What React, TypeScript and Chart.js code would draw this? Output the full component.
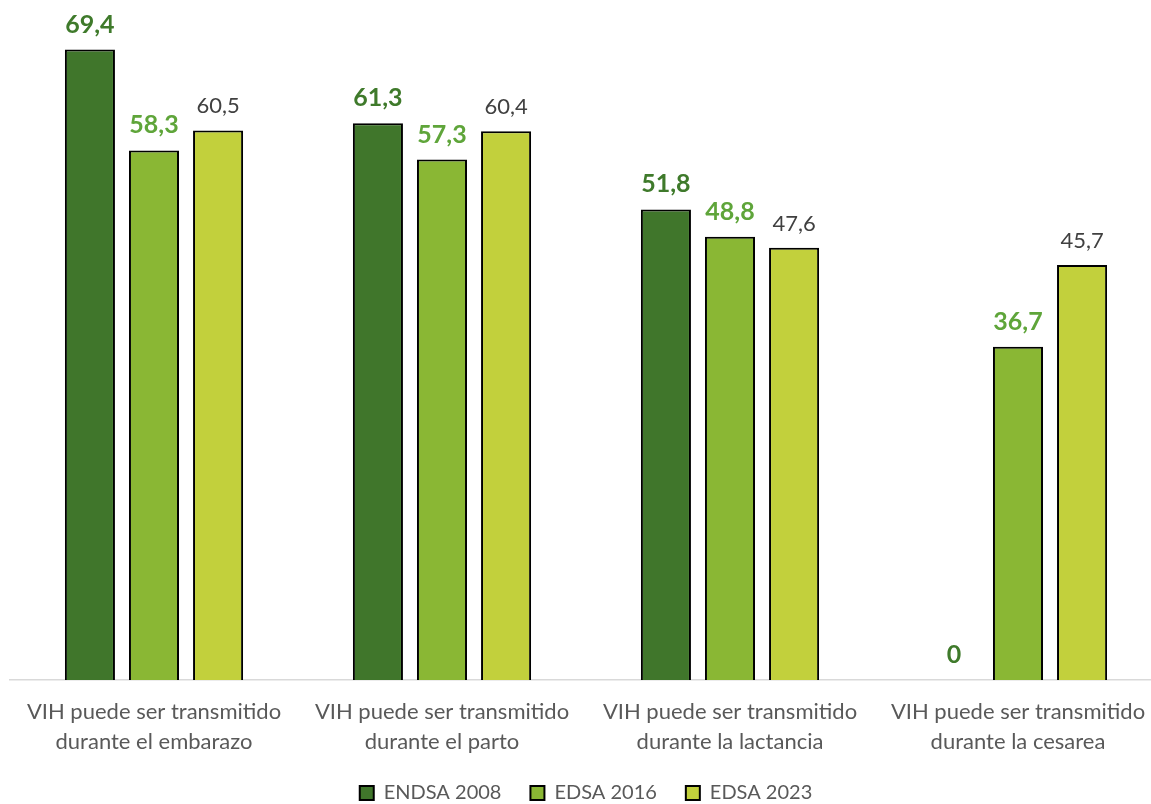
import React, { useEffect, useRef } from "react";
import { Chart, registerables } from "chart.js";

Chart.register(...registerables);

const categories: string[][] = [
  ["VIH puede ser transmitido", "durante el embarazo"],
  ["VIH puede ser transmitido", "durante el parto"],
  ["VIH puede ser transmitido", "durante la lactancia"],
  ["VIH puede ser transmitido", "durante la cesarea"],
];
const seriesNames = ["ENDSA 2008", "EDSA 2016", "EDSA 2023"];
const endsa2008 = [69.4, 61.3, 51.8, 0];
const edsa2016 = [58.3, 57.3, 48.8, 36.7];
const edsa2023 = [60.5, 60.4, 47.6, 45.7];

const barColors = ["#40762B", "#8AB734", "#C2D03C"];
const labelColors = ["#3F7A2B", "#5FA53A", "#404040"];
const labelBold = [true, true, false];
const FONT = "Lato, 'Open Sans', sans-serif";

const valueLabels = {
  id: "valueLabels",
  afterDatasetsDraw(chart: any) {
    const ctx = chart.ctx;
    chart.data.datasets.forEach((ds: any, di: number) => {
      const meta = chart.getDatasetMeta(di);
      meta.data.forEach((el: any, i: number) => {
        const v = ds.data[i];
        ctx.save();
        ctx.font = (labelBold[di] ? "bold 25px " : "22px ") + FONT;
        ctx.fillStyle = labelColors[di];
        ctx.textAlign = "center";
        ctx.textBaseline = "alphabetic";
        const txt = String(v).replace(".", ",");
        ctx.fillText(txt, el.x, el.y - 17);
        ctx.restore();
      });
    });
  },
};

export default function App() {
  const ref = useRef<HTMLCanvasElement>(null);
  useEffect(() => {
    const values = [endsa2008, edsa2016, edsa2023];
    const chart = new Chart(ref.current!, {
      type: "bar",
      data: {
        labels: categories,
        datasets: values.map((d, i) => ({
          label: seriesNames[i],
          data: d,
          backgroundColor: barColors[i],
          borderColor: "#000000",
          borderWidth: 2,
          categoryPercentage: 0.6674,
          barPercentage: 0.78125,
        })),
      },
      options: {
        animation: false,
        responsive: true,
        maintainAspectRatio: false,
        layout: { padding: { left: 10, right: 0, top: 26, bottom: -9 } },
        scales: {
          y: { display: false, min: 0, max: 72 },
          x: {
            grid: { display: false, drawTicks: true, tickLength: 20 },
            border: { display: true, color: "#D9D9D9", width: 1.5 },
            ticks: {
              color: "#595959",
              font: { family: FONT, size: 22, lineHeight: 30 / 22 },
              padding: -3,
              maxRotation: 0,
              autoSkip: false,
            },
          },
        },
        plugins: {
          tooltip: { enabled: false },
          legend: {
            position: "bottom",
            labels: {
              color: "#595959",
              font: { family: FONT, size: 20 },
              boxWidth: 14,
              boxHeight: 14,
              padding: 29,
            },
          },
        },
      },
      plugins: [valueLabels],
    });
    return () => chart.destroy();
  }, []);
  return (
    <div style={{ position: "fixed", left: 0, top: 0, width: 1151, height: 804, overflow: "hidden", background: "#fff" }}>
      <div style={{ position: "relative", width: 1162, height: 804 }}>
        <canvas ref={ref} />
      </div>
    </div>
  );
}
